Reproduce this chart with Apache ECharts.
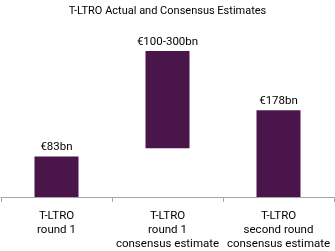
<!DOCTYPE html>
<html><head><meta charset="utf-8">
<script src="https://cdn.jsdelivr.net/npm/echarts@6/dist/echarts.min.js"></script>
<style>html,body{margin:0;padding:0;background:#fff}#c{width:335px;height:251px}</style>
</head><body><div id="c"></div>
<script>
const categories = ['T-LTRO\nround 1', 'T-LTRO\nround 1\nconsensus estimate', 'T-LTRO\nsecond round\nconsensus estimate'];
const lows = [0, 100, 0];
const highs = [83, 300, 178];
const title = 'T-LTRO Actual and Consensus Estimates';

const font = 'Roboto';
const chart = echarts.init(document.getElementById('c'));
chart.setOption({
  animation: false,
  title: { text: title, left: 'center', top: 1, textStyle: { fontFamily: font, fontSize: 11, fontWeight: 'normal', color: '#000' } },
  grid: { left: 1, right: 1, top: 51, bottom: 50 },
  xAxis: {
    type: 'category', data: categories,
    axisLine: { lineStyle: { color: '#a6a6a6', width: 1 } },
    axisTick: { show: true, length: 5, lineStyle: { color: '#a6a6a6' } },
    axisLabel: { fontFamily: font, fontSize: 11.5, color: '#000', lineHeight: 14, margin: 12, interval: 0 }
  },
  yAxis: { type: 'value', min: 0, max: 300, show: false, splitLine: { show: false } },
  series: [
    { type: 'bar', stack: 's', data: lows, itemStyle: { color: 'transparent' }, barWidth: 44, silent: true },
    { type: 'bar', stack: 's', data: highs.map((h, i) => h - lows[i]), barWidth: 44,
      itemStyle: { color: '#4a154b' },
      label: { show: true, position: 'top', distance: 3, fontFamily: font, fontSize: 11.5, color: '#000',
        formatter: p => lows[p.dataIndex] > 0 ? '€' + lows[p.dataIndex] + '-' + highs[p.dataIndex] + 'bn' : '€' + highs[p.dataIndex] + 'bn' } }
  ]
});
</script></body></html>
